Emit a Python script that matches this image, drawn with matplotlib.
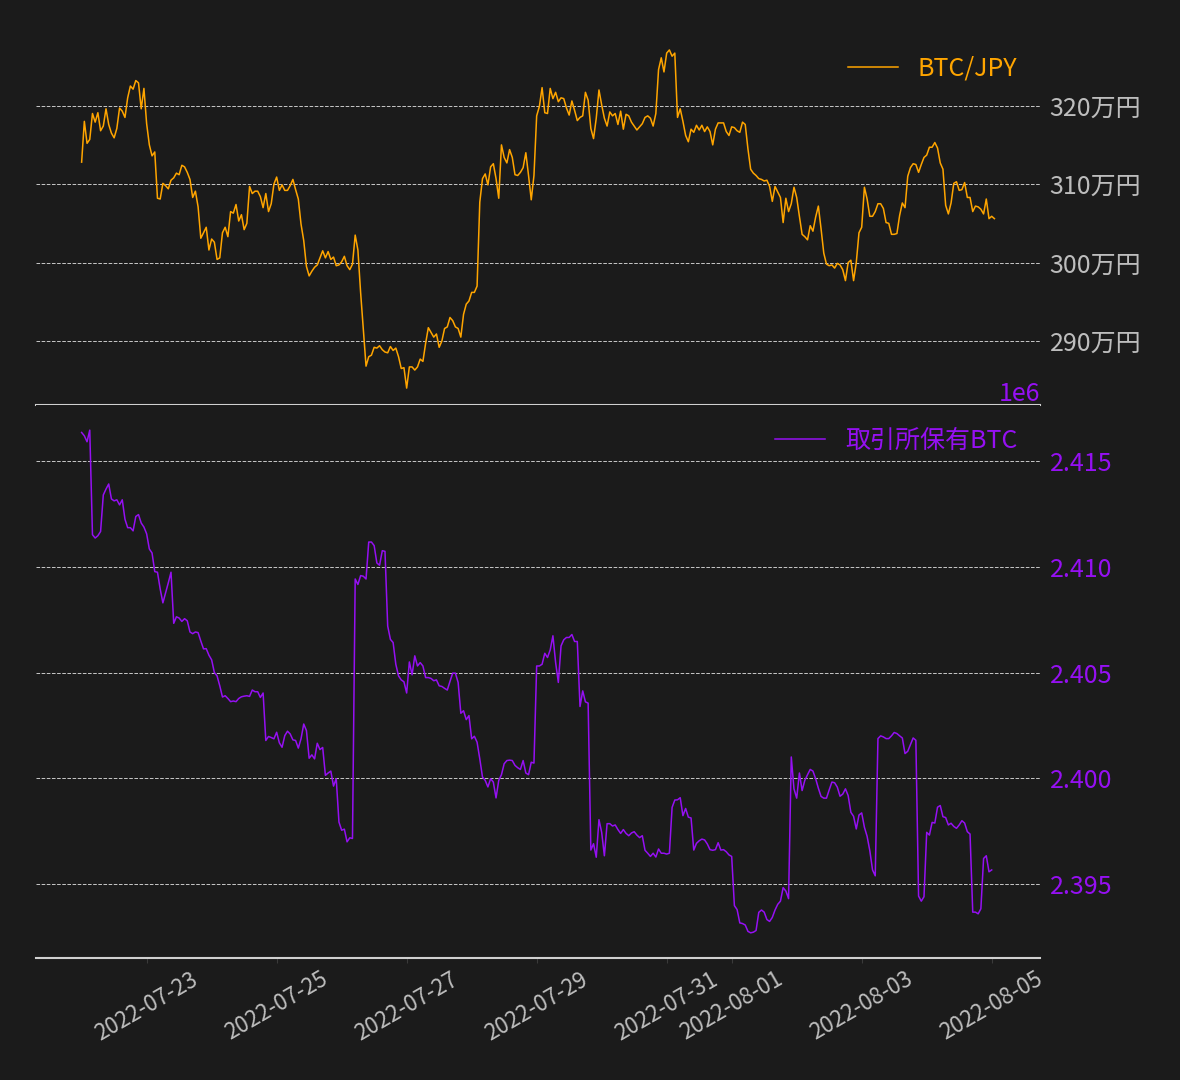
import matplotlib
matplotlib.use("Agg")
import matplotlib.pyplot as plt
import matplotlib.ticker as mticker
import numpy as np
import pandas as pd

plt.rcParams['font.family'] = ['Noto Sans CJK JP', 'DejaVu Sans']

# hourly data from 2022-07-22 00:00
start = "2022-07-22 00:00"

# BTC/JPY price in 万円 (hourly)
btcjpy_man = [
    312.8, 318.0, 315.2, 315.7, 319.0, 317.9, 319.1, 316.8, 317.4, 319.6,
    317.6, 316.5, 315.9, 317.1, 319.7, 319.3, 318.5, 321.0, 322.5, 322.1,
    323.2, 322.9, 319.6, 322.2, 317.7, 315.0, 313.6, 314.1, 308.2, 308.1,
    310.1, 309.8, 309.4, 310.5, 310.8, 311.4, 311.2, 312.4, 312.2, 311.5,
    310.6, 308.3, 309.1, 307.1, 303.1, 303.8, 304.5, 301.6, 303.0, 302.6,
    300.4, 300.6, 303.8, 304.5, 303.3, 306.5, 306.3, 307.4, 305.3, 306.1,
    304.2, 305.0, 309.7, 308.8, 309.1, 309.1, 308.4, 307.0, 308.8, 306.5,
    307.5, 310.0, 310.9, 309.2, 309.9, 309.2, 309.2, 309.8, 310.6, 309.3,
    308.1, 304.9, 302.8, 299.5, 298.3,
    298.9, 299.4, 299.7, 300.6, 301.5, 300.6, 301.4, 300.4, 300.7, 299.6,
    299.7, 300.1, 300.8, 299.6, 299.1, 299.8, 303.5, 301.6, 296.2, 291.5,
    286.8, 288.0, 288.2, 289.2, 289.1, 289.4, 288.9, 288.6, 288.5, 289.3,
    288.8, 289.1, 288.0, 286.5, 286.6, 284.0, 286.7, 286.7, 286.3, 286.7,
    287.7, 287.4, 289.7, 291.7, 291.1, 290.5, 290.9, 289.2, 290.0, 291.6,
    291.8, 293.0, 292.6, 291.8, 291.6, 290.5, 293.4, 294.7, 295.1, 296.2,
    296.2, 297.0, 307.7, 310.7, 311.3, 309.9, 312.2, 312.6, 310.7, 308.2,
    315.0, 313.4, 312.7, 314.4, 313.4, 311.2, 311.1, 311.5, 312.1, 314.0,
    311.1, 308.0, 311.1, 318.7, 319.9,
    322.3, 319.1, 319.0, 322.2, 320.9, 321.7, 320.5, 321.0, 320.9, 319.7,
    318.8, 320.6, 319.4, 318.1, 318.5, 318.7, 321.7, 320.7, 317.1, 315.8,
    318.4, 322.0, 320.1, 318.4, 317.4, 319.2, 318.7, 319.0, 317.6, 319.3,
    317.0, 318.9, 318.7, 317.9, 317.4, 316.9, 317.3, 317.7, 318.5, 318.7,
    318.4, 317.4, 319.0, 324.6, 326.1, 324.3, 326.7, 327.1, 326.3, 326.7,
    318.5, 319.6, 318.0, 316.2, 315.4, 317.0, 316.6, 317.5, 316.9, 317.5,
    316.7, 317.3, 316.7, 315.0, 317.0, 317.8, 317.8, 317.8, 316.7, 316.2,
    317.3, 317.2, 316.8, 316.6, 317.9, 317.6, 314.5, 311.9, 311.4, 311.1,
    310.7,
    310.6, 310.4, 310.5, 309.7, 307.8, 309.7, 309.0, 308.3, 305.1, 308.2,
    306.5, 307.5, 309.6, 308.3, 305.9, 303.6, 303.3, 302.9, 304.7, 304.0,
    305.8, 307.2, 304.3, 301.2, 299.8, 299.6, 299.7, 299.3, 299.9, 299.7,
    299.1, 297.7, 300.0, 300.3, 297.7, 300.0, 303.8, 304.5, 309.6, 308.1,
    305.9, 305.9, 306.5, 307.5, 307.5, 306.9, 305.1, 305.0, 303.6, 303.6,
    303.7, 306.0, 307.6, 307.0, 311.0, 312.1, 312.6, 312.5, 311.5, 312.5,
    313.4, 313.7, 314.7, 314.7, 315.3, 314.6, 312.7, 311.9, 307.3, 306.2,
    307.6, 310.1, 310.3, 309.2, 309.3, 310.2, 308.3, 308.3, 306.5, 307.2,
    307.1, 306.8, 306.2, 308.1, 305.6, 305.9, 305.6,
]

# BTC held on exchanges, in thousands of BTC (hourly)
exch_btc_k = [
    2416.37, 2416.21, 2415.93, 2416.48, 2411.53, 2411.37, 2411.48, 2411.68, 2413.41, 2413.69,
    2413.93, 2413.22, 2413.13, 2413.18, 2412.94, 2413.18, 2412.26, 2411.86, 2411.86, 2411.71,
    2412.39, 2412.48, 2412.08, 2411.89, 2411.57, 2410.85, 2410.66, 2409.78, 2409.75, 2408.96,
    2408.30, 2408.77, 2409.25, 2409.75, 2407.33, 2407.64, 2407.58, 2407.42, 2407.55, 2407.45,
    2406.92, 2406.84, 2406.92, 2406.89, 2406.49, 2406.12, 2406.13, 2405.82, 2405.60, 2405.00,
    2404.84, 2404.37, 2403.84, 2403.90, 2403.77, 2403.62, 2403.65, 2403.62, 2403.77, 2403.85,
    2403.88, 2403.90, 2403.87, 2404.17, 2404.09, 2404.09, 2403.82, 2404.03, 2401.78, 2401.97,
    2401.92, 2401.86, 2402.17, 2401.67, 2401.46, 2402.01, 2402.22, 2402.09, 2401.81, 2401.78,
    2401.42, 2401.86, 2402.56, 2402.25,
    2400.94, 2401.10, 2400.91, 2401.65, 2401.35, 2401.45, 2400.13, 2400.24, 2400.33, 2399.62,
    2399.97, 2397.92, 2397.53, 2397.58, 2396.98, 2397.17, 2397.14, 2409.43, 2409.17, 2409.59,
    2409.56, 2409.43, 2411.18, 2411.18, 2411.01, 2410.19, 2410.08, 2410.77, 2410.74, 2407.20,
    2406.57, 2406.42, 2405.39, 2404.84, 2404.65, 2404.56, 2404.03, 2405.50, 2404.89, 2405.79,
    2405.31, 2405.47, 2405.31, 2404.76, 2404.76, 2404.72, 2404.61, 2404.65, 2404.37, 2404.34,
    2404.25, 2404.17, 2404.58, 2404.97, 2404.97, 2404.53, 2403.07, 2403.19, 2402.77, 2402.96,
    2401.86, 2401.98, 2401.70, 2400.91, 2400.05, 2399.89, 2399.58, 2399.97, 2399.81, 2399.06,
    2399.89, 2400.16, 2400.68, 2400.83, 2400.85, 2400.83, 2400.60, 2400.49, 2400.41, 2400.83,
    2400.24, 2400.16, 2400.75, 2400.71, 2405.31, 2405.31,
    2405.39, 2405.91, 2405.71, 2406.07, 2406.74, 2405.47, 2404.53, 2406.26, 2406.55, 2406.66,
    2406.66, 2406.80, 2406.47, 2406.47, 2403.39, 2404.13, 2403.61, 2403.55, 2396.59, 2396.89,
    2396.25, 2398.03, 2397.43, 2396.32, 2397.84, 2397.84, 2397.73, 2397.78, 2397.56, 2397.38,
    2397.56, 2397.38, 2397.27, 2397.40, 2397.46, 2397.30, 2397.18, 2397.27, 2396.58, 2396.44,
    2396.29, 2396.44, 2396.26, 2396.64, 2396.44, 2396.44, 2396.40, 2396.44, 2398.61, 2398.96,
    2398.97, 2399.07, 2398.22, 2398.56, 2398.15, 2398.11, 2396.59, 2396.91, 2397.03, 2397.11,
    2397.07, 2396.88, 2396.61, 2396.58, 2396.61, 2396.94, 2396.59, 2396.61, 2396.51, 2396.36,
    2396.29, 2393.96, 2393.77, 2393.14, 2393.11, 2393.04, 2392.74, 2392.67, 2392.70, 2392.78,
    2393.64,
    2393.75, 2393.65, 2393.30, 2393.21, 2393.40, 2393.75, 2394.02, 2394.17, 2394.81, 2394.65,
    2394.29, 2401.00, 2399.49, 2399.05, 2400.24, 2399.41, 2399.89, 2400.16, 2400.41, 2400.33,
    2399.97, 2399.52, 2399.13, 2399.05, 2399.05, 2399.44, 2399.81, 2399.78, 2399.57, 2399.14,
    2399.24, 2399.49, 2399.17, 2398.38, 2398.19, 2397.59, 2398.25, 2398.35, 2397.67, 2397.24,
    2396.56, 2395.65, 2395.37, 2401.87, 2402.00, 2401.95, 2401.87, 2401.87, 2402.00, 2402.16,
    2402.11, 2402.00, 2401.90, 2401.16, 2401.27, 2401.59, 2401.90, 2401.79, 2394.41, 2394.17,
    2394.38, 2397.43, 2397.30, 2397.90, 2397.87, 2398.62, 2398.70, 2398.17, 2398.13, 2397.78,
    2397.86, 2397.71, 2397.62, 2397.78, 2397.98, 2397.87, 2397.46, 2397.35, 2393.65, 2393.65,
    2393.57, 2393.81, 2396.19, 2396.32, 2395.56, 2395.65,
]

bg = '#1b1b1b'
orange = '#ffa500'
purple = '#9510f2'
gray = '#bdbdbd'

t_price = pd.date_range(start, periods=len(btcjpy_man), freq='h')
t_exch = pd.date_range(start, periods=len(exch_btc_k), freq='h')
price = np.array(btcjpy_man) * 1e4
exch = np.array(exch_btc_k) * 1e3

fig, (ax1, ax2) = plt.subplots(2, 1, sharex=True, figsize=(11.8, 10.8), dpi=100,
                               gridspec_kw={'height_ratios': [372, 553]})
fig.patch.set_facecolor(bg)
fig.subplots_adjust(left=0.0305, right=0.8814, top=0.9694, bottom=0.1130, hspace=0)

ax1.plot(t_price, price, color=orange, lw=1.1, label='BTC/JPY')
ax2.plot(t_exch, exch, color=purple, lw=1.1, label='取引所保有BTC')

for ax, lc in ((ax1, gray), (ax2, purple)):
    ax.set_facecolor(bg)
    for s in ('top', 'left', 'right'):
        ax.spines[s].set_visible(False)
    ax.spines['bottom'].set_color('#d0d0d0')
    ax.spines['bottom'].set_linewidth(1.5)
    ax.yaxis.tick_right()
    ax.tick_params(axis='y', length=0, pad=7, labelsize=18, labelcolor=lc)
    ax.grid(axis='y', linestyle='--', color='#c8c8c8', linewidth=0.7)
    ax.grid(axis='x', visible=False)
    ax.legend(loc='upper right', frameon=False, fontsize=18, labelcolor='linecolor')

ax1.yaxis.set_major_formatter(mticker.FuncFormatter(lambda v, p: f"{v / 1e4:.0f}万円"))
ax1.tick_params(axis='x', length=0)
ax2.tick_params(axis='x', colors='#3a3a3a', labelcolor=gray, labelsize=16)
plt.setp(ax2.get_xticklabels(), rotation=30)

off = ax2.yaxis.get_offset_text()
off.set_fontsize(18)
off.set_color(purple)

fig.savefig('out.png', facecolor=bg)
